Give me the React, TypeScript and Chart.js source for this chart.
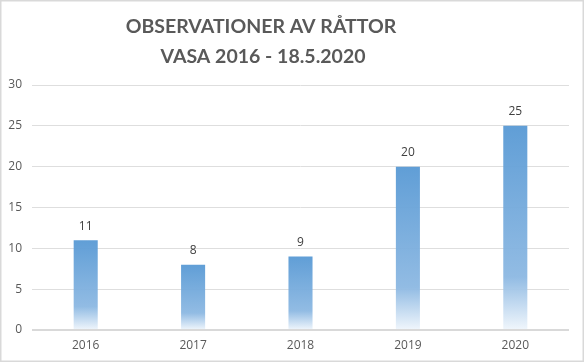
import React, { useEffect, useRef } from "react";
import { Chart, registerables } from "chart.js";

Chart.register(...registerables);

const categories = ["2016", "2017", "2018", "2019", "2020"];
const observations = [11, 8, 9, 20, 25];
const yTicks = [0, 5, 10, 15, 20, 25, 30];
const titleLines = ["OBSERVATIONER AV RÅTTOR", "VASA 2016 - 18.5.2020"];

const FONT = "'Open Sans', 'Noto Sans', sans-serif";

const overlayPlugin = {
  id: "overlay",
  beforeDraw(chart: any) {
    const ctx = chart.ctx;
    ctx.save();
    ctx.fillStyle = "#ffffff";
    ctx.fillRect(0, 0, chart.width, chart.height);
    ctx.restore();
  },
  afterDatasetsDraw(chart: any) {
    const ctx = chart.ctx;
    const meta = chart.getDatasetMeta(0);
    ctx.save();
    ctx.fillStyle = "#404040";
    ctx.font = `12px ${FONT}`;
    ctx.textAlign = "center";
    ctx.textBaseline = "middle";
    meta.data.forEach((bar: any, i: number) => {
      ctx.fillText(String(observations[i]), bar.x, bar.y - 14);
    });
    ctx.restore();
  },
  afterDraw(chart: any) {
    const ctx = chart.ctx;
    ctx.save();
    ctx.fillStyle = "#595959";
    ctx.font = `bold 19.5px Lato, ${FONT}`;
    ctx.textAlign = "center";
    ctx.textBaseline = "middle";
    ctx.fillText(titleLines[0], 261, 27);
    ctx.fillText(titleLines[1], 263, 57);
    ctx.strokeStyle = "#d9d9d9";
    ctx.lineWidth = 1.5;
    ctx.strokeRect(0.75, 0.75, chart.width - 1.5, chart.height - 1.5);
    ctx.restore();
  },
};

export default function App() {
  const ref = useRef<HTMLCanvasElement>(null);

  useEffect(() => {
    document.body.style.margin = "0";
    const canvas = ref.current!;
    const chart = new Chart(canvas, {
      type: "bar",
      data: {
        labels: categories,
        datasets: [
          {
            data: observations,
            barPercentage: 0.224,
            categoryPercentage: 1,
            borderWidth: 0,
            backgroundColor: (c: any) => {
              const ch = c.chart;
              const { chartArea, scales } = ch;
              if (!chartArea || !scales.y) return "#5B9BD5";
              const top = scales.y.getPixelForValue(c.raw);
              const bottom = scales.y.getPixelForValue(0);
              const g = ch.ctx.createLinearGradient(0, top, 0, bottom);
              g.addColorStop(0, "rgba(91,155,213,0.97)");
              g.addColorStop(0.74, "rgba(140,184,226,0.95)");
              g.addColorStop(1, "rgba(240,246,252,0.95)");
              return g;
            },
          },
        ],
      },
      options: {
        animation: false,
        responsive: false,
        maintainAspectRatio: false,
        layout: { padding: { top: 85, right: 15, left: 0, bottom: 0 } },
        plugins: {
          legend: { display: false },
          title: { display: false },
          tooltip: { enabled: false },
        },
        scales: {
          x: {
            grid: { display: false, drawTicks: false },
            border: { display: false },
            ticks: {
              color: "#595959",
              font: { family: FONT, size: 12 },
              padding: 8,
            },
            afterFit: (s: any) => {
              s.height = 32;
            },
          },
          y: {
            min: 0,
            max: 30,
            afterBuildTicks: (s: any) => {
              s.ticks = yTicks.map((v) => ({ value: v }));
            },
            grid: {
              drawTicks: false,
              color: (c: any) => (c.tick && c.tick.value === 0 ? "#d9d9d9" : "#dedede"),
              lineWidth: (c: any) => (c.tick && c.tick.value === 0 ? 2 : 1),
            },
            border: { display: false },
            ticks: {
              color: "#595959",
              font: { family: FONT, size: 12 },
              padding: 10,
            },
            afterFit: (s: any) => {
              s.width = 32;
            },
          },
        },
      },
      plugins: [overlayPlugin],
    });
    return () => chart.destroy();
  }, []);

  return (
    <div style={{ position: "absolute", left: 0, top: 0, width: 584, height: 362 }}>
      <canvas ref={ref} width={584} height={362} style={{ display: "block" }} />
    </div>
  );
}
